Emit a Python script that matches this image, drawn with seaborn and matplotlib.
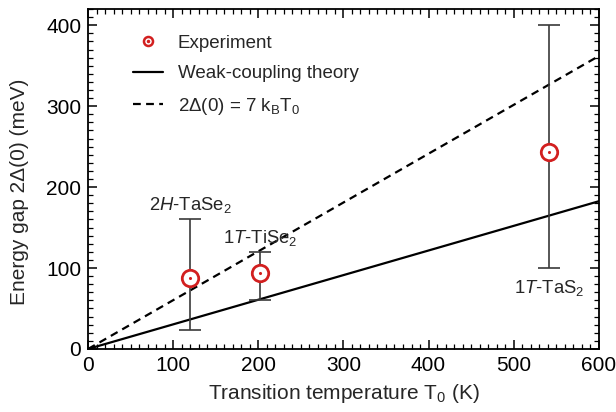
import numpy as np
import pandas as pd
import matplotlib
matplotlib.use("Agg")
import matplotlib.pyplot as plt
from matplotlib.ticker import MultipleLocator
from matplotlib.legend_handler import HandlerTuple
from matplotlib.lines import Line2D
import seaborn as sns

# Measured CDW gaps
labels = ["2$\\it{H}$-TaSe$_2$", "1$\\it{T}$-TiSe$_2$", "1$\\it{T}$-TaS$_2$"]
t0 = [120, 202, 542]
gap = [88, 94, 243]
gap_low = [24, 60, 100]
gap_high = [160, 120, 400]
label_pos_y = [178, 137, 75]

# Theory lines
kB = 0.08617  # meV/K
t_line = [0, 600]
weak_coupling_ratio = 3.53
strong_ratio = 7.0

sns.set_style("white")
plt.rcParams.update({
    "xtick.direction": "in", "ytick.direction": "in",
    "xtick.bottom": True, "ytick.left": True,
    "xtick.top": True, "ytick.right": True,
    "xtick.color": "black", "ytick.color": "black",
    "xtick.major.size": 6.5, "ytick.major.size": 6.5,
    "xtick.minor.size": 3.5, "ytick.minor.size": 3.5,
    "xtick.major.width": 1.1, "ytick.major.width": 1.1,
    "xtick.minor.width": 0.9, "ytick.minor.width": 0.9,
    "xtick.major.pad": 5, "ytick.major.pad": 5,
    "xtick.labelsize": 15, "ytick.labelsize": 15,
    "axes.edgecolor": "black", "axes.linewidth": 1.3, "axes.axisbelow": False,
    "font.family": ["Liberation Sans", "DejaVu Sans"],
    "mathtext.fontset": "custom",
    "mathtext.rm": "Liberation Sans",
    "mathtext.it": "Liberation Sans:italic",
    "mathtext.bf": "Liberation Sans:bold",
})

fig, ax = plt.subplots(figsize=(6.16, 4.12), dpi=100)
fig.subplots_adjust(left=0.143, right=0.972, top=0.978, bottom=0.153)

dash = (0, (3.5, 2.4))
lines = pd.DataFrame({
    "T": t_line * 2,
    "gap": [weak_coupling_ratio * kB * t for t in t_line] + [strong_ratio * kB * t for t in t_line],
    "kind": ["weak"] * 2 + ["seven"] * 2,
})
sns.lineplot(data=lines[lines.kind == "weak"], x="T", y="gap", color="black", lw=1.6, ax=ax)
sns.lineplot(data=lines[lines.kind == "seven"], x="T", y="gap", color="black", lw=1.6, ax=ax,
             linestyle=dash)

red = "#d21f1f"
yerr = [np.array(gap) - np.array(gap_low), np.array(gap_high) - np.array(gap)]
ax.errorbar(t0, gap, yerr=yerr, fmt="none", ecolor="#3a3a3a", elinewidth=1.2,
            capsize=8, capthick=1.2, zorder=3)

pts = pd.DataFrame({"T": t0, "gap": gap})
sns.scatterplot(data=pts, x="T", y="gap", marker="o", s=140, facecolor="white",
                edgecolor=red, linewidth=2.0, ax=ax, zorder=4)
sns.scatterplot(data=pts, x="T", y="gap", marker="o", s=5, color=red,
                edgecolor=red, linewidth=0, ax=ax, zorder=5)

for lab, x, y in zip(labels, t0, label_pos_y):
    ax.text(x, y, lab, ha="center", va="center", fontsize=13.3)

ax.set_xlim(0, 600)
ax.set_ylim(0, 420)
ax.xaxis.set_major_locator(MultipleLocator(100))
ax.xaxis.set_minor_locator(MultipleLocator(10))
ax.yaxis.set_major_locator(MultipleLocator(100))
ax.yaxis.set_minor_locator(MultipleLocator(10))

ax.set_xlabel("Transition temperature T$_0$ (K)", fontsize=15, labelpad=5)
ax.set_ylabel("Energy gap 2Δ(0) (meV)", fontsize=15)
ax.yaxis.set_label_coords(-0.115, 0.463)

h_exp = (Line2D([], [], marker="o", ms=6.5, mfc="white", mec=red, mew=1.8, ls="none"),
         Line2D([], [], marker="o", ms=1.5, mfc=red, mec=red, ls="none"))
h_weak = Line2D([], [], color="black", lw=1.6)
h_seven = Line2D([], [], color="black", lw=1.6, linestyle=dash)
ax.legend([h_exp, h_weak, h_seven],
          ["Experiment", "Weak-coupling theory", "2Δ(0) = 7 k$_\\mathrm{B}$T$_0$"],
          handler_map={tuple: HandlerTuple(ndivide=1, pad=0)},
          loc="upper left", bbox_to_anchor=(0.054, 0.975), frameon=False,
          fontsize=13.5, handlelength=1.6, labelspacing=0.72, handletextpad=0.8)

fig.savefig("out.png", dpi=100)
